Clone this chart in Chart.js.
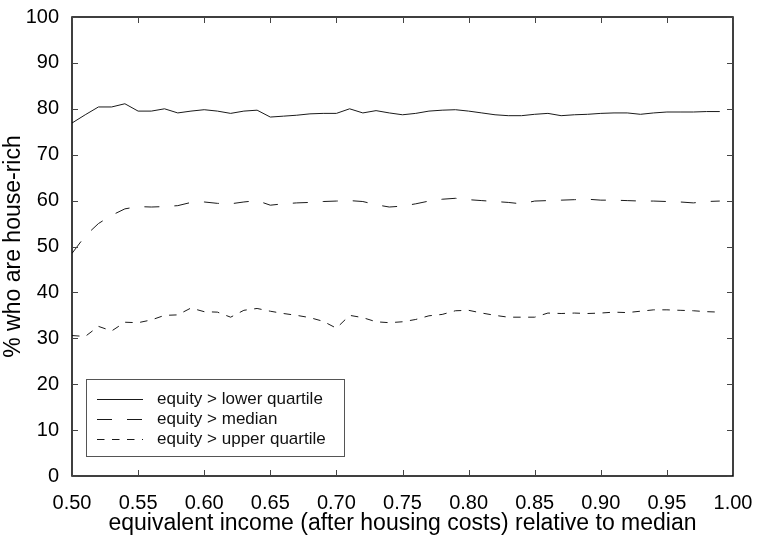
<!DOCTYPE html>
<html>
<head>
<meta charset="utf-8">
<script src="https://cdn.jsdelivr.net/npm/chart.js@4"></script>
<style>
  html, body { margin: 0; padding: 0; background: #fff; }
  #house-chart { display: block; }
</style>
</head>
<body>
<canvas id="house-chart" width="761" height="537"></canvas>
<script>
// income relative to median, 0.50 .. 0.99
const incomes = [
  0.50, 0.51, 0.52, 0.53, 0.54, 0.55, 0.56, 0.57, 0.58, 0.59,
  0.60, 0.61, 0.62, 0.63, 0.64, 0.65, 0.66, 0.67, 0.68, 0.69,
  0.70, 0.71, 0.72, 0.73, 0.74, 0.75, 0.76, 0.77, 0.78, 0.79,
  0.80, 0.81, 0.82, 0.83, 0.84, 0.85, 0.86, 0.87, 0.88, 0.89,
  0.90, 0.91, 0.92, 0.93, 0.94, 0.95, 0.96, 0.97, 0.98, 0.99
];

const lowerQuartile = [
  76.9, 78.7, 80.4, 80.4, 81.1, 79.5, 79.5, 80.0, 79.1, 79.5,
  79.8, 79.5, 79.0, 79.5, 79.7, 78.2, 78.4, 78.6, 78.9, 79.0,
  79.0, 80.0, 79.1, 79.6, 79.1, 78.7, 79.0, 79.5, 79.7, 79.8,
  79.5, 79.1, 78.7, 78.5, 78.5, 78.8, 79.0, 78.5, 78.7, 78.8,
  79.0, 79.1, 79.1, 78.8, 79.1, 79.3, 79.3, 79.3, 79.4, 79.4
];

const median = [
  48.5, 52.3, 55.0, 56.8, 58.2, 58.7, 58.6, 58.7, 58.9, 59.6,
  59.7, 59.4, 59.3, 59.7, 60.0, 59.0, 59.3, 59.5, 59.6, 59.8,
  59.9, 60.0, 59.8, 59.1, 58.6, 58.8, 59.3, 59.9, 60.3, 60.5,
  60.2, 60.0, 59.8, 59.6, 59.3, 59.9, 60.0, 60.1, 60.2, 60.3,
  60.1, 60.1, 60.0, 59.9, 59.9, 59.8, 59.7, 59.5, 59.8, 59.9
];

const upperQuartile = [
  30.6, 30.4, 32.6, 31.6, 33.5, 33.4, 34.0, 35.0, 35.1, 36.6,
  35.8, 35.7, 34.6, 36.1, 36.5, 35.9, 35.4, 35.0, 34.5, 33.7,
  32.2, 35.0, 34.5, 33.6, 33.4, 33.6, 34.1, 34.9, 35.2, 36.0,
  36.1, 35.5, 35.0, 34.6, 34.6, 34.6, 35.5, 35.4, 35.5, 35.4,
  35.5, 35.7, 35.6, 35.9, 36.2, 36.2, 36.1, 36.0, 35.8, 35.7
];

const seriesLabels = ['equity > lower quartile', 'equity > median', 'equity > upper quartile'];
const seriesDashes = [[], [15, 15], [7.5, 7.5]];

const FONT = "'Liberation Sans', Arial, sans-serif";
const INK = '#1a1a1a';

function points(values) {
  return values.map((v, i) => ({ x: incomes[i], y: v }));
}

// frame round the plot, inward ticks on all four sides, legend box inside
const framePlugin = {
  id: 'frame',
  afterDraw(chart) {
    const c = chart.ctx;
    const a = chart.chartArea;
    const xs = chart.scales.x;
    const ys = chart.scales.y;
    c.save();
    c.strokeStyle = '#000';
    c.lineWidth = 1.5;
    c.strokeRect(a.left, a.top, a.right - a.left, a.bottom - a.top);
    c.lineWidth = 1;
    c.strokeStyle = '#444';
    xs.ticks.forEach(t => {
      const px = Math.round(xs.getPixelForValue(t.value)) + 0.5;
      c.beginPath();
      c.moveTo(px, a.bottom); c.lineTo(px, a.bottom - 6);
      c.moveTo(px, a.top); c.lineTo(px, a.top + 6);
      c.stroke();
    });
    ys.ticks.forEach(t => {
      const py = Math.round(ys.getPixelForValue(t.value)) + 0.5;
      c.beginPath();
      c.moveTo(a.left, py); c.lineTo(a.left + 6, py);
      c.moveTo(a.right, py); c.lineTo(a.right - 6, py);
      c.stroke();
    });

    // legend
    const bx = a.left + 14, by = a.top + 362, bw = 258, bh = 77;
    c.fillStyle = '#fff';
    c.fillRect(bx, by, bw, bh);
    c.strokeStyle = '#555';
    c.lineWidth = 1;
    c.strokeRect(bx + 0.5, by + 0.5, bw, bh);
    c.font = '17px ' + FONT;
    c.textBaseline = 'middle';
    chart.data.datasets.forEach((ds, i) => {
      const ly = by + 20 + i * 20;
      c.strokeStyle = ds.borderColor;
      c.setLineDash(ds.borderDash);
      c.beginPath();
      c.moveTo(bx + 11, ly + 0.5); c.lineTo(bx + 57, ly + 0.5);
      c.stroke();
      c.setLineDash([]);
      c.fillStyle = '#111';
      c.fillText(ds.label, bx + 71, ly);
    });
    c.restore();
  }
};

document.addEventListener('DOMContentLoaded', () => {
  const ctx = document.getElementById('house-chart').getContext('2d');

  const data = {
    datasets: [
      {
        label: seriesLabels[0],
        data: points(lowerQuartile),
        borderColor: INK,
        borderWidth: 1,
        borderDash: seriesDashes[0],
        pointRadius: 0,
        tension: 0
      },
      {
        label: seriesLabels[1],
        data: points(median),
        borderColor: INK,
        borderWidth: 1,
        borderDash: seriesDashes[1],
        pointRadius: 0,
        tension: 0
      },
      {
        label: seriesLabels[2],
        data: points(upperQuartile),
        borderColor: INK,
        borderWidth: 1,
        borderDash: seriesDashes[2],
        pointRadius: 0,
        tension: 0
      }
    ]
  };

  const options = {
    responsive: false,
    animation: false,
    layout: { padding: { left: 0, top: 17, right: 28, bottom: 0 } },
    plugins: {
      legend: { display: false },
      tooltip: { enabled: false }
    },
    scales: {
      x: {
        type: 'linear',
        min: 0.5,
        max: 1.0,
        grid: { display: false },
        border: { display: false },
        afterFit: s => { s.height = 61; },
        ticks: {
          stepSize: 0.05,
          padding: 7,
          color: '#000',
          font: { family: FONT, size: 20 },
          callback: v => v.toFixed(2)
        },
        title: {
          display: true,
          text: 'equivalent income (after housing costs) relative to median',
          color: '#000',
          font: { family: FONT, size: 23 },
          padding: { top: 0, bottom: 0 }
        }
      },
      y: {
        min: 0,
        max: 100,
        grid: { display: false },
        border: { display: false },
        afterFit: s => { s.width = 72; },
        ticks: {
          stepSize: 10,
          padding: 5,
          color: '#000',
          font: { family: FONT, size: 20 }
        },
        title: {
          display: true,
          text: '% who are house-rich',
          color: '#000',
          font: { family: FONT, size: 23 },
          padding: { top: 0, bottom: 2 }
        }
      }
    }
  };

  new Chart(ctx, {
    type: 'line',
    data: data,
    options: options,
    plugins: [framePlugin]
  });
});
</script>
</body>
</html>
